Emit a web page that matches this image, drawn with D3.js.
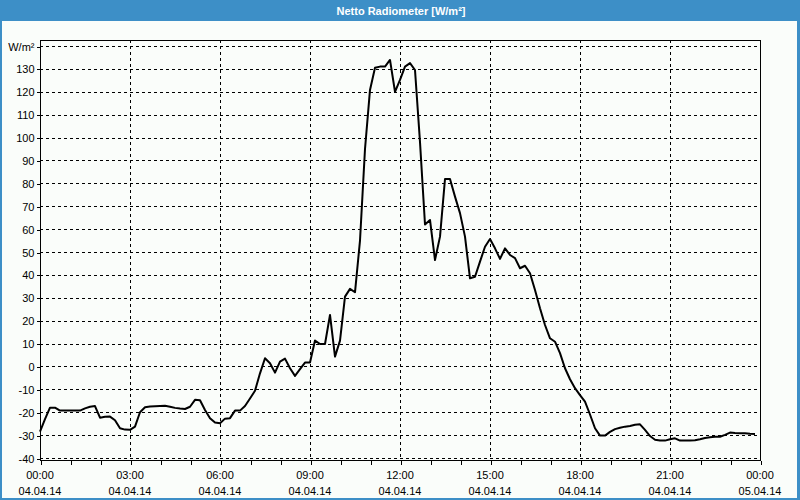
<!DOCTYPE html>
<html>
<head>
<meta charset="utf-8">
<script src="https://cdn.jsdelivr.net/npm/d3@7/dist/d3.min.js"></script>
<style>
  html, body { margin: 0; padding: 0; background: #fff; }
  svg { display: block; }
  text { font-family: "Liberation Sans", Arial, sans-serif; }
</style>
</head>
<body>
<svg id="chart" width="800" height="500"></svg>
<script>
// ---- data ----
const title = "Netto Radiometer [W/m²]";
const unitLabel = "W/m²";
// minutes since 04.04.14 00:00
const times = [
  0,10,20,30,40,50,60,70,80,90,100,110,120,130,140,150,160,170,180,190,
  200,210,220,230,240,250,260,270,280,290,300,310,320,330,340,350,360,370,380,390,
  400,410,420,430,440,450,460,470,480,490,500,510,520,530,540,550,560,570,580,590,
  600,610,620,630,640,650,660,670,680,690,700,710,720,730,740,750,760,770,780,790,
  800,810,820,830,840,850,860,870,880,890,900,910,920,930,940,950,960,970,980,990,
  1000,1010,1020,1030,1040,1050,1060,1070,1080,1090,1100,1110,1120,1130,1140,1150,1160,1170,1180,1190,
  1200,1210,1220,1230,1240,1250,1260,1270,1280,1290,1300,1310,1320,1330,1340,1350,1360,1370,1380,1390,
  1400,1410,1420,1430
];
const values = [
  -28.5,-23,-18,-18,-19.3,-19.3,-19.3,-19.3,-19.3,-18.3,-17.6,-17.3,-22.4,-22,-21.9,-23.5,-27,-27.6,-27.7,-26.3,
  -20,-17.8,-17.5,-17.4,-17.3,-17.2,-17.6,-18.1,-18.4,-18.6,-17.6,-14.6,-14.8,-19,-22.6,-24.5,-24.8,-22.8,-22.6,-19.3,
  -19.3,-17.3,-14,-10.6,-3,3.6,1.4,-2.7,2.1,3.4,-0.8,-4.1,-1.2,1.7,1.7,11.3,9.8,9.8,22.5,4.3,
  11.3,30.5,33.9,32.4,55,95,120.8,130.5,131,131,133.9,120,125.2,131,132.5,129.5,98,62,64,46.5,
  56.7,81.9,81.9,74.2,67,56.7,38.5,39.2,45.8,52.3,55.7,51.6,47,51.6,48.7,47.3,42.9,44,40.7,33.4,
  25.4,18.1,12.3,10.8,5.8,-0.8,-5.6,-9.5,-12.5,-15.4,-21,-27,-30.2,-30.2,-28.6,-27.4,-26.8,-26.3,-26,-25.5,
  -25.3,-27.7,-30.4,-32,-32.4,-32.4,-31.8,-31.4,-32.4,-32.4,-32.4,-32.2,-31.8,-31.3,-30.9,-30.7,-30.7,-29.9,-28.9,-29.1,
  -29.2,-29.2,-29.4,-29.5
];
const yTicks = [-40,-30,-20,-10,0,10,20,30,40,50,60,70,80,90,100,110,120,130];
const yTopTick = 140;
const xMajorTicks = [0,180,360,540,720,900,1080,1260,1440];
const xTimeLabels = ["00:00","03:00","06:00","09:00","12:00","15:00","18:00","21:00","00:00"];
const xDateLabels = ["04.04.14","04.04.14","04.04.14","04.04.14","04.04.14","04.04.14","04.04.14","04.04.14","05.04.14"];
const xMinorTicks = d3.range(0, 1441, 60);

// ---- layout ----
const W = 800, H = 500;
const plot = { left: 40, right: 760, top: 40, bottom: 460 };
const blue = "#3d8fc7";

const svg = d3.select("#chart");

// frame + title bar
svg.append("rect").attr("x",0).attr("y",0).attr("width",W).attr("height",H).attr("fill",blue);
svg.append("rect").attr("x",2).attr("y",21).attr("width",795).attr("height",477).attr("fill","#fafdfa");
svg.append("text").attr("x",401).attr("y",14.5).attr("text-anchor","middle")
  .attr("fill","#fff").attr("font-size","11px").attr("font-weight","bold").text(title);

const x = d3.scaleLinear().domain([0,1440]).range([plot.left, plot.right]);
const y = d3.scaleLinear().domain([-40,140]).range([458, 46]);

const grid = svg.append("g").attr("shape-rendering","crispEdges");
// horizontal gridlines
grid.selectAll("line.h").data(yTicks.concat([yTopTick])).join("line")
  .attr("x1", plot.left).attr("x2", plot.right)
  .attr("y1", d => Math.round(y(d)) + 0.5).attr("y2", d => Math.round(y(d)) + 0.5)
  .attr("stroke","#000").attr("stroke-width",1).attr("stroke-dasharray","3,3");
// vertical gridlines
grid.selectAll("line.v").data(xMajorTicks.slice(1,-1)).join("line")
  .attr("x1", d => Math.round(x(d)) + 0.5).attr("x2", d => Math.round(x(d)) + 0.5)
  .attr("y1", plot.top).attr("y2", plot.bottom)
  .attr("stroke","#000").attr("stroke-width",1).attr("stroke-dasharray","3,3");

// plot border
svg.append("rect").attr("x",plot.left+0.5).attr("y",plot.top+0.5)
  .attr("width",plot.right-plot.left).attr("height",plot.bottom-plot.top)
  .attr("fill","none").attr("stroke","#000").attr("shape-rendering","crispEdges");

// y axis
const yAxis = d3.axisLeft(y).tickValues(yTicks.concat([yTopTick])).tickSize(4).tickPadding(2)
  .tickFormat(d => d === yTopTick ? unitLabel : String(d));
const gy = svg.append("g").attr("transform",`translate(${plot.left+0.5},0.5)`).call(yAxis);
gy.select(".domain").remove();
gy.selectAll("line").attr("shape-rendering","crispEdges");
gy.selectAll("text").attr("font-size","11px").attr("fill","#000")
  .attr("font-family","Liberation Sans, Arial, sans-serif");

// x axis minor/major ticks
const xAxis = d3.axisBottom(x).tickValues(xMinorTicks).tickSize(4).tickFormat("");
const gx = svg.append("g").attr("transform",`translate(0.5,${plot.bottom+0.5})`).call(xAxis);
gx.select(".domain").remove();
gx.selectAll("line").attr("shape-rendering","crispEdges");

// x labels (two lines)
const xl = svg.append("g").attr("font-size","11px").attr("fill","#000").attr("text-anchor","middle");
xl.selectAll("text.t").data(xMajorTicks).join("text")
  .attr("x", d => x(d)).attr("y", 479).text((d,i) => xTimeLabels[i]);
xl.selectAll("text.d").data(xMajorTicks).join("text")
  .attr("x", d => x(d)).attr("y", 495).text((d,i) => xDateLabels[i]);

// line
const pts = times.map((t,i) => [t, values[i]]);
svg.append("path").datum(pts)
  .attr("d", d3.line().x(d => x(d[0])).y(d => y(d[1])))
  .attr("fill","none").attr("stroke","#000").attr("stroke-width",2)
  .attr("stroke-linejoin","round");
</script>
</body>
</html>
